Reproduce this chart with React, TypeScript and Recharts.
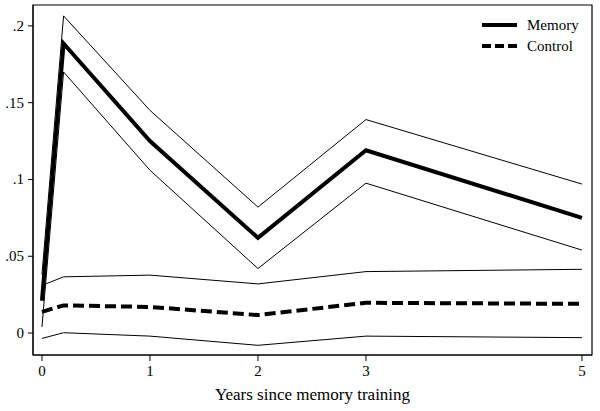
import { Line, LineChart, ReferenceArea, XAxis, YAxis } from "recharts";

const years = [0, 0.2, 1, 2, 3, 5];
const memoryMean = [0.021, 0.1885, 0.125, 0.062, 0.119, 0.075];
const memoryUpper = [0.038, 0.2065, 0.145, 0.082, 0.139, 0.097];
const memoryLower = [0.004, 0.17, 0.106, 0.042, 0.0976, 0.054];
const controlMean = [0.0138, 0.018, 0.017, 0.0117, 0.0197, 0.019];
const controlUpper = [0.031, 0.0366, 0.0377, 0.032, 0.04, 0.0415];
const controlLower = [-0.0035, 0.0002, -0.002, -0.008, -0.002, -0.003];

const xTicks = [0, 1, 2, 3, 5];
const yTicks = [0, 0.05, 0.1, 0.15, 0.2];
const xDomain = [-0.083, 5.093];
const yDomain = [-0.0143, 0.2136];

const data = years.map((year, i) => ({
  year,
  memoryMean: memoryMean[i],
  memoryUpper: memoryUpper[i],
  memoryLower: memoryLower[i],
  controlMean: controlMean[i],
  controlUpper: controlUpper[i],
  controlLower: controlLower[i],
}));

const font = "'Liberation Serif', 'Times New Roman', serif";

function formatY(v: number) {
  if (v === 0) return "0";
  return String(Number(v.toFixed(2))).replace(/^0/, "");
}

function XTick({ x, y, payload }: any) {
  return (
    <text x={x} y={y + 13} textAnchor="middle" fontSize={15} fontFamily={font} fill="#000">
      {payload.value}
    </text>
  );
}

function YTick({ x, y, payload }: any) {
  return (
    <text x={x - 2} y={y + 5} textAnchor="end" fontSize={15} fontFamily={font} fill="#000">
      {formatY(payload.value)}
    </text>
  );
}

// legend drawn on its own so it doesn't eat plot space
function LegendBox() {
  const rows = [
    { label: "Memory", dash: undefined },
    { label: "Control", dash: "9 4" },
  ];
  return (
    <svg width={110} height={44} style={{ position: "absolute", left: 482, top: 14 }}>
      {rows.map((row, i) => (
        <g key={row.label} transform={`translate(0, ${11 + i * 21})`}>
          <line x1={0} x2={35} y1={0} y2={0} stroke="#000" strokeWidth={4} strokeDasharray={row.dash} />
          <text x={45} y={5} fontSize={15} fill="#000" fontFamily={font}>
            {row.label}
          </text>
        </g>
      ))}
    </svg>
  );
}

export default function App() {
  return (
    <div style={{ position: "absolute", left: 0, top: 0, width: 600, height: 411, background: "#fff" }}>
      <LineChart
        width={600}
        height={411}
        data={data}
        margin={{ top: 5, right: 8, left: 0, bottom: 26 }}
      >
        <ReferenceArea
          x1={xDomain[0]}
          x2={xDomain[1]}
          y1={yDomain[0]}
          y2={yDomain[1]}
          fill="none"
          stroke="#000"
          strokeWidth={1.2}
          ifOverflow="visible"
        />
        <XAxis
          dataKey="year"
          type="number"
          domain={xDomain}
          ticks={xTicks}
          allowDataOverflow
          height={30}
          stroke="#000"
          tickSize={6}
          tick={<XTick />}
          label={{
            value: "Years since memory training",
            position: "insideBottom",
            offset: -15,
            fill: "#000",
            fontSize: 17,
            fontFamily: font,
          }}
        />
        <YAxis
          type="number"
          domain={yDomain}
          ticks={yTicks}
          allowDataOverflow
          width={33}
          stroke="#000"
          tickSize={5}
          tick={<YTick />}
        />
        <Line dataKey="memoryUpper" stroke="#000" strokeWidth={1} dot={false} isAnimationActive={false} />
        <Line dataKey="memoryLower" stroke="#000" strokeWidth={1} dot={false} isAnimationActive={false} />
        <Line dataKey="controlUpper" stroke="#000" strokeWidth={1} dot={false} isAnimationActive={false} />
        <Line dataKey="controlLower" stroke="#000" strokeWidth={1} dot={false} isAnimationActive={false} />
        <Line dataKey="memoryMean" name="Memory" stroke="#000" strokeWidth={4} dot={false} isAnimationActive={false} />
        <Line dataKey="controlMean" name="Control" stroke="#000" strokeWidth={4} strokeDasharray="11 5" dot={false} isAnimationActive={false} />
      </LineChart>
      <LegendBox />
    </div>
  );
}
